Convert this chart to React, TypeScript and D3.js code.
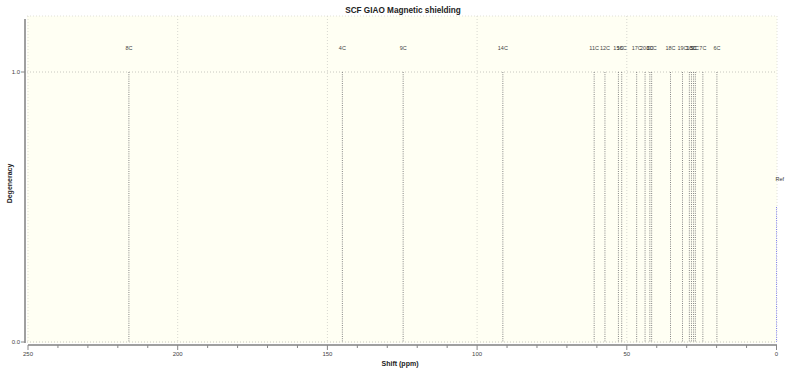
import React from "react";
import * as d3 from "d3";

const peakLabels = ["8C","4C","9C","14C","11C","12C","15C","16C","17C","20C","3C","10C","18C","19C","1C","13C","5C","2C","7C","6C"];
const peakShifts = [216.3,145.0,124.7,91.4,60.9,57.3,52.8,51.7,46.7,43.9,42.3,41.7,35.4,31.4,29.1,28.4,27.7,27.1,24.6,19.9];
const peakDegeneracy = [1,1,1,1,1,1,1,1,1,1,1,1,1,1,1,1,1,1,1,1];
const refLabel = ["Ref"];
const refShift = [0];
const refDegeneracy = [0.5];
const xTicksMajor = [250,200,150,100,50,0];
const yTicks = [0,1];

const W = 800, H = 377;
const left = 27, right = 777, top = 16, bottom = 343;

export default function App() {
  const x = d3.scaleLinear().domain([250, 0]).range([28, 776.5]);
  const y = d3.scaleLinear().domain([0, 1]).range([342, 72]);
  const minor = d3.range(250, -1, -10);
  const font = "'Liberation Sans', Arial, sans-serif";
  return (
    <svg width={W} height={H} style={{ position: "absolute", left: 0, top: 0 }}>
      <rect x={0} y={0} width={W} height={H} fill="#fff" />
      <rect x={left} y={top} width={right - left} height={bottom - top} fill="#fffff3" />
      {/* grid */}
      {[200,150,100,50].map(v => (
        <line key={"gx"+v} x1={x(v)} x2={x(v)} y1={top} y2={bottom} stroke="#d8d8d0" strokeDasharray="1,2" />
      ))}
      {yTicks.map(v => (
        <line key={"gy"+v} x1={left} x2={right} y1={y(v)} y2={y(v)} stroke="#c8c8c0" strokeDasharray="1,2" />
      ))}
      <line x1={left} x2={right} y1={top} y2={top} stroke="#e0e0d8" strokeDasharray="1,2" />
      <line x1={left + 1} x2={left + 1} y1={top} y2={bottom} stroke="#e0e0d8" strokeDasharray="1,2" />
      <line x1={right} x2={right} y1={top} y2={bottom} stroke="#e0e0d8" strokeDasharray="1,2" />
      {/* peaks */}
      {peakShifts.map((s, i) => (
        <g key={"p"+i}>
          <line x1={x(s)} x2={x(s)} y1={y(peakDegeneracy[i])} y2={y(0)} stroke="#858585" strokeWidth={1} strokeDasharray="1,1.2" />
          <text x={x(s)} y={y(peakDegeneracy[i]) - 22} textAnchor="middle" fontFamily={font} fontSize={5.5} fill="#444">{peakLabels[i]}</text>
        </g>
      ))}
      {refShift.map((s, i) => (
        <g key={"r"+i}>
          <line x1={x(s)} x2={x(s)} y1={y(refDegeneracy[i])} y2={y(0)} stroke="#8080f0" strokeWidth={1} strokeDasharray="1,1.2" />
          <text x={x(s) - 1} y={y(refDegeneracy[i]) - 26} textAnchor="start" fontFamily={font} fontSize={5.5} fill="#333">{refLabel[i]}</text>
        </g>
      ))}
      {/* y axis */}
      <line x1={25} x2={25} y1={top + 3} y2={bottom} stroke="#a0a0a0" strokeWidth={2} />
      {yTicks.map(v => (
        <g key={"yt"+v}>
          <line x1={21} x2={25} y1={y(v)} y2={y(v)} stroke="#888" />
          <text x={20} y={y(v) + 2} textAnchor="end" fontFamily={font} fontSize={6} fill="#444">{v.toFixed(1)}</text>
        </g>
      ))}
      <text transform={`translate(12,${(top + bottom) / 2 + 4}) rotate(-90)`} textAnchor="middle" fontFamily={font} fontWeight="bold" fontSize={7} fill="#222">Degeneracy</text>
      {/* x axis */}
      <line x1={28} x2={777} y1={345} y2={345} stroke="#a0a0a0" strokeWidth={2} />
      {minor.map(v => (
        <line key={"mt"+v} x1={x(v)} x2={x(v)} y1={345} y2={xTicksMajor.includes(v) ? 350 : 348} stroke="#888" />
      ))}
      {xTicksMajor.map(v => (
        <text key={"xt"+v} x={x(v)} y={356} textAnchor="middle" fontFamily={font} fontSize={6} fill="#444">{v}</text>
      ))}
      <text x={400} y={366} textAnchor="middle" fontFamily={font} fontWeight="bold" fontSize={7} fill="#222">Shift (ppm)</text>
      <text x={403} y={13} textAnchor="middle" fontFamily={font} fontWeight="bold" fontSize={8.2} fill="#222">SCF GIAO Magnetic shielding</text>
    </svg>
  );
}
